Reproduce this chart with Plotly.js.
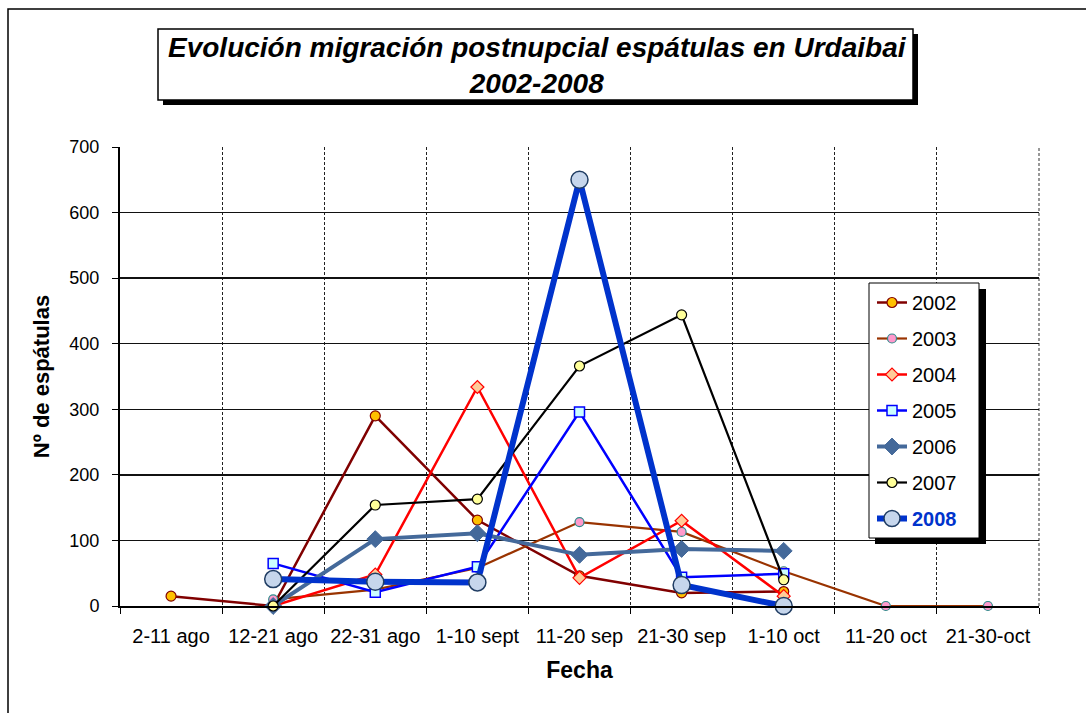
<!DOCTYPE html>
<html>
<head>
<meta charset="utf-8">
<script src="https://cdn.plot.ly/plotly-3.0.1.min.js"></script>
<style>html,body{margin:0;padding:0;background:#fff;}#chart{width:1086px;height:713px;}</style>
</head>
<body>
<div id="chart"></div>
<script>
const categories = ['2-11 ago','12-21 ago','22-31 ago','1-10 sept','11-20 sep','21-30 sep','1-10 oct','11-20 oct','21-30-oct'];
const years = ['2002','2003','2004','2005','2006','2007','2008'];
const v2002 = [15, 0, 290, 131, 46, 20, 22, null, null];
const v2003 = [null, 10, 25, 58, 128, 113, 53, 0, 0];
const v2004 = [null, 0, 48, 334, 43, 130, 15, null, null];
const v2005 = [null, 65, 21, 60, 296, 44, 49, null, null];
const v2006 = [null, 0, 102, 111, 78, 87, 84, null, null];
const v2007 = [null, 0, 154, 163, 366, 444, 40, null, null];
const v2008 = [null, 41, 37, 36, 650, 32, 0, null, null];
const titleText = 'Evolución migración postnupcial espátulas en Urdaibai<br>2002-2008';
const xTitle = 'Fecha';
const yTitle = 'Nº de espátulas';

const series = [v2002, v2003, v2004, v2005, v2006, v2007, v2008];
const styles = [
  {lc:'#800000', lw:2.5, sym:'circle', ms:10, mf:'#FFC000', ml:'#800000', mlw:1.2},
  {lc:'#993300', lw:2.2, sym:'circle', ms:9, mf:'#FF99CC', ml:'#2E8B8B', mlw:1.2},
  {lc:'#FF0000', lw:2.5, sym:'diamond', ms:10, mf:'#FFCC99', ml:'#FF0000', mlw:1.2},
  {lc:'#0000FF', lw:2.5, sym:'square', ms:10, mf:'#CCFFFF', ml:'#0000FF', mlw:1.5},
  {lc:'#44699A', lw:4, sym:'diamond', ms:13, mf:'#44699A', ml:'#44699A', mlw:1},
  {lc:'#000000', lw:2.2, sym:'circle', ms:10, mf:'#FFFF99', ml:'#000000', mlw:1.2},
  {lc:'#0033CC', lw:6, sym:'circle', ms:17, mf:'#C6D6EC', ml:'#203D63', mlw:1.5}
];

const traces = series.map((vals, i) => {
  const s = styles[i];
  const name = i === 6 ? '<b><span style="color:#0033CC">' + years[i] + '</span></b>' : years[i];
  return {
    type: 'scatter', mode: 'lines+markers',
    x: categories, y: vals, name: name, legendgroup: 'g' + i,
    line: {color: s.lc, width: s.lw},
    marker: {symbol: s.sym, size: s.ms, color: s.mf, line: {color: s.ml, width: s.mlw}},
    connectgaps: false, cliponaxis: false
  };
});

const W = 1086, H = 713, L = 120, R = 47, T = 147, B = 107;
const pw = W - L - R, ph = H - T - B;
const px = x => (x - L) / pw;
const py = y => (H - B - y) / ph;

const layout = {
  width: W, height: H,
  margin: {l: L, r: R, t: T, b: B},
  paper_bgcolor: '#fff', plot_bgcolor: '#fff',
  font: {family: 'Arial, "Liberation Sans", sans-serif', size: 18, color: '#000'},
  showlegend: true,
  legend: {
    x: px(872), y: py(283), xanchor: 'left', yanchor: 'top',
    bgcolor: 'rgba(0,0,0,0)', borderwidth: 0,
    font: {size: 20, color: '#000'},
    traceorder: 'grouped', tracegroupgap: 7
  },
  xaxis: {
    type: 'category', categoryorder: 'array', categoryarray: categories,
    range: [-0.5, 8.5],
    tickson: 'boundaries', ticks: 'outside', ticklen: 6, tickcolor: '#000',
    showgrid: true, gridcolor: '#222', gridwidth: 1, griddash: '3px,2px',
    showline: true, linecolor: '#000', linewidth: 2,
    tickfont: {size: 20}, zeroline: false, ticklabelstandoff: 11,
    title: {text: '<b>' + xTitle + '</b>', font: {size: 23}, standoff: 16}
  },
  yaxis: {
    range: [0, 700], dtick: 100, tick0: 0,
    ticks: 'outside', ticklen: 6, tickcolor: '#000',
    showgrid: true, gridcolor: '#111', gridwidth: 1.3,
    showline: true, linecolor: '#000', linewidth: 2,
    zeroline: false, tickfont: {size: 18}, ticklabelstandoff: 9,
    title: {text: '<b>' + yTitle + '</b>', font: {size: 22}, standoff: 14}
  },
  shapes: [
    {type:'rect', xref:'paper', yref:'paper', x0: px(8), x1: px(1095), y0: py(720), y1: py(9), line:{color:'#000', width:1.5}, fillcolor:'rgba(0,0,0,0)', layer:'below'},
    {type:'line', xref:'paper', yref:'paper', x0: 1, x1: 1, y0: 0, y1: 1, line:{color:'#777', width:1.5, dash:'3px,2px'}, layer:'below'},
    {type:'rect', xref:'paper', yref:'paper', x0: px(163), x1: px(918), y0: py(105), y1: py(34), line:{width:0}, fillcolor:'#000', layer:'above'},
    {type:'rect', xref:'paper', yref:'paper', x0: px(158), x1: px(913), y0: py(100), y1: py(29), line:{color:'#000', width:1.5}, fillcolor:'#fff', layer:'above'},
    {type:'rect', xref:'paper', yref:'paper', x0: px(875), x1: px(986), y0: py(544), y1: py(289), line:{width:0}, fillcolor:'#000', layer:'above'},
    {type:'rect', xref:'paper', yref:'paper', x0: px(869), x1: px(979), y0: py(538), y1: py(283), line:{color:'#000', width:1}, fillcolor:'#fff', layer:'above'}
  ],
  annotations: [
    {xref:'paper', yref:'paper', x: px(537), y: py(65), xanchor:'center', yanchor:'middle',
     text: '<b><i>' + titleText + '</i></b>', showarrow:false, font:{size: 28, color:'#000'}}
  ]
};

Plotly.newPlot('chart', traces, layout, {displayModeBar: false, staticPlot: true});
</script>
</body>
</html>
